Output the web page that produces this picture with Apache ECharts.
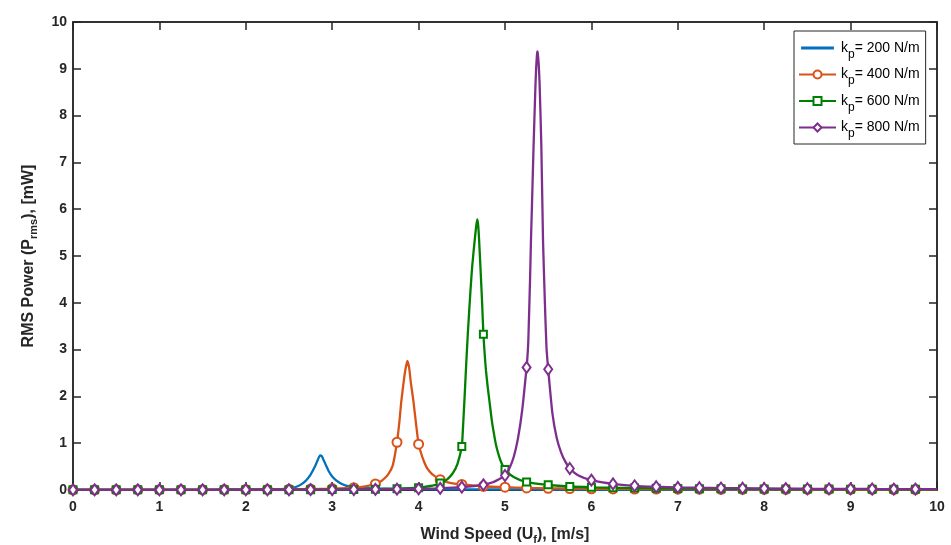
<!DOCTYPE html>
<html>
<head>
<meta charset="utf-8">
<script src="https://cdn.jsdelivr.net/npm/echarts@6/dist/echarts.min.js"></script>
<style>html,body{margin:0;padding:0;background:#fff}#c{width:951px;height:545px}</style>
</head>
<body>
<div id="c"></div>
<script>
// ---- data ----
const seriesNames = ['200', '400', '600', '800'];
const xTicks = [0,1,2,3,4,5,6,7,8,9,10];
const yTicks = [0,1,2,3,4,5,6,7,8,9,10];

const kp200 = [[0,0.01],[0.5,0.01],[1,0.01],[1.5,0.01],[2,0.012],[2.25,0.015],[2.4,0.02],[2.5,0.03],[2.55,0.05],[2.6,0.08],[2.65,0.13],[2.7,0.21],[2.75,0.33],[2.8,0.5],[2.83,0.63],[2.86,0.74],[2.88,0.72],[2.9,0.64],[2.93,0.52],[2.96,0.4],[3,0.29],[3.05,0.2],[3.1,0.14],[3.15,0.1],[3.2,0.08],[3.3,0.05],[3.4,0.04],[3.5,0.03],[3.75,0.025],[4,0.02],[4.5,0.015],[5,0.012],[6,0.01],[7,0.01],[8,0.01],[9,0.01],[10,0.01]];

const kp400 = [[0,0.005],[0.25,0.005],[0.5,0.005],[0.75,0.006],[1,0.006],[1.25,0.007],[1.5,0.008],[1.75,0.009],[2,0.01],[2.25,0.012],[2.5,0.015],[2.75,0.02],[3,0.03],[3.25,0.05],[3.4,0.085],[3.5,0.13],[3.55,0.17],[3.6,0.24],[3.65,0.34],[3.7,0.52],[3.75,1.02],[3.78,1.5],[3.8,1.9],[3.83,2.35],[3.85,2.6],[3.87,2.76],[3.89,2.62],[3.91,2.3],[3.94,1.9],[3.97,1.42],[4,0.98],[4.03,0.78],[4.06,0.62],[4.1,0.46],[4.15,0.35],[4.2,0.28],[4.25,0.22],[4.35,0.16],[4.5,0.12],[4.75,0.08],[5,0.06],[5.25,0.045],[5.5,0.036],[5.75,0.03],[6,0.026],[6.25,0.023],[6.5,0.021],[6.75,0.019],[7,0.018],[7.25,0.017],[7.5,0.016],[7.75,0.015],[8,0.014],[8.25,0.013],[8.5,0.012],[8.75,0.012],[9,0.011],[9.25,0.011],[9.5,0.01],[9.75,0.01],[10,0.01]];

const kp600 = [[0,0.003],[0.25,0.003],[0.5,0.003],[0.75,0.003],[1,0.004],[1.25,0.004],[1.5,0.004],[1.75,0.005],[2,0.005],[2.25,0.006],[2.5,0.007],[2.75,0.008],[3,0.01],[3.25,0.013],[3.5,0.018],[3.75,0.028],[4,0.05],[4.1,0.075],[4.2,0.11],[4.25,0.15],[4.3,0.19],[4.35,0.26],[4.4,0.37],[4.45,0.56],[4.5,0.93],[4.51,1.2],[4.52,1.55],[4.53,1.9],[4.55,2.65],[4.57,3.35],[4.6,4.25],[4.62,4.77],[4.65,5.35],[4.67,5.68],[4.68,5.78],[4.69,5.65],[4.7,5.35],[4.72,4.6],[4.735,4.0],[4.75,3.33],[4.765,2.9],[4.78,2.55],[4.8,2.2],[4.82,1.9],[4.85,1.45],[4.88,1.12],[4.9,0.93],[4.95,0.62],[5,0.44],[5.1,0.28],[5.25,0.17],[5.5,0.11],[5.75,0.075],[6,0.058],[6.25,0.048],[6.5,0.041],[6.75,0.036],[7,0.032],[7.25,0.029],[7.5,0.026],[7.75,0.024],[8,0.022],[8.25,0.021],[8.5,0.02],[8.75,0.019],[9,0.018],[9.25,0.017],[9.5,0.016],[9.75,0.016],[10,0.015]];

const kp800 = [[0,0.002],[0.25,0.002],[0.5,0.002],[0.75,0.003],[1,0.003],[1.25,0.003],[1.5,0.004],[1.75,0.004],[2,0.005],[2.25,0.005],[2.5,0.006],[2.75,0.007],[3,0.008],[3.25,0.01],[3.5,0.013],[3.75,0.018],[4,0.025],[4.25,0.036],[4.5,0.06],[4.75,0.11],[4.85,0.16],[4.9,0.2],[4.95,0.25],[5,0.31],[5.05,0.46],[5.1,0.7],[5.15,1.1],[5.2,1.72],[5.25,2.62],[5.26,2.85],[5.27,3.2],[5.29,4.5],[5.3,5.3],[5.31,5.95],[5.33,7.3],[5.35,8.5],[5.36,9.0],[5.37,9.3],[5.375,9.37],[5.38,9.32],[5.39,9.1],[5.4,8.7],[5.42,7.4],[5.44,5.34],[5.46,4.1],[5.48,3.05],[5.5,2.58],[5.55,1.62],[5.6,1.1],[5.65,0.8],[5.7,0.6],[5.75,0.46],[5.85,0.31],[6,0.21],[6.25,0.13],[6.5,0.09],[6.75,0.07],[7,0.056],[7.25,0.048],[7.5,0.042],[7.75,0.037],[8,0.033],[8.25,0.03],[8.5,0.027],[8.75,0.025],[9,0.023],[9.25,0.021],[9.5,0.02],[9.75,0.019],[10,0.018]];

// ---- styling ----
const colors = ['#0072BD', '#D95319', '#008000', '#7E2F8E'];
const symbols = ['none', 'emptyCircle', 'emptyRect', 'emptyDiamond'];
const symbolSizes = [0, 9, 7, [8, 11]];
const FONT = 'Liberation Sans, Arial, Helvetica, sans-serif';
const AX = '#262626';
const LINE_ICON = 'path://M0,0 M0,12 M0,5.3 L37,5.3 L37,6.7 L0,6.7 Z';

function withMarkers(arr, sym) {
  return arr.map(p => {
    const onGrid = Math.abs(p[0] * 4 - Math.round(p[0] * 4)) < 1e-9 && p[0] < 10;
    if (sym !== 'none' && onGrid) return { value: p };
    return { value: p, symbol: 'none' };
  });
}

const allData = [kp200, kp400, kp600, kp800];
const series = allData.map((d, i) => ({
  name: 'kp' + seriesNames[i],
  type: 'line',
  xAxisIndex: 0, yAxisIndex: 0,
  data: withMarkers(d, symbols[i]),
  symbol: symbols[i],
  symbolSize: symbolSizes[i],
  showSymbol: symbols[i] !== 'none',
  showAllSymbol: true,
  smooth: 0.2,
  z: 2 + i,
  color: colors[i],
  lineStyle: { width: 2.3, color: colors[i] },
  itemStyle: { borderWidth: 2, borderColor: colors[i], color: colors[i] },
  emphasis: { disabled: true },
  animation: false
}));

const axisCommon = {
  type: 'value', min: 0, max: 10, interval: 1, gridIndex: 0,
  axisLine: { show: true, onZero: false, lineStyle: { color: AX, width: 1.5 } },
  axisTick: { show: true, inside: true, length: 8, lineStyle: { color: AX, width: 1.5 } },
  splitLine: { show: false }
};

const legendData = series.map((s, i) => i === 0 ? { name: s.name, icon: LINE_ICON } : { name: s.name });

const chart = echarts.init(document.getElementById('c'));
chart.setOption({
  animation: false,
  backgroundColor: '#fff',
  grid: { left: 73, right: 14, top: 22, bottom: 55, containLabel: false, outerBoundsMode: 'none',
    show: true, borderColor: AX, borderWidth: 1.5, backgroundColor: 'transparent' },
  legend: {
    orient: 'vertical',
    left: 794, top: 31,
    padding: [10, 6, 4, 4],
    itemWidth: 37, itemHeight: 10, itemGap: 7,
    borderColor: AX, borderWidth: 1,
    backgroundColor: '#fff',
    data: legendData,
    formatter: function (n) { return '{a|k}{s|p}{a|= ' + n.replace('kp', '') + ' N/m}'; },
    textStyle: {
      fontFamily: FONT, color: '#000',
      rich: {
        a: { fontSize: 14, fontFamily: FONT, color: '#000' },
        s: { fontSize: 12, fontFamily: FONT, color: '#000', padding: [13, 0, 0, 0] }
      }
    }
  },
  xAxis: [
    Object.assign({}, axisCommon, {
      position: 'bottom',
      name: '{a|Wind Speed (U}{s|f}{a|), [m/s]}',
      nameLocation: 'middle', nameGap: 35,
      nameTextStyle: {
        rich: {
          a: { fontSize: 16, fontWeight: 'bold', fontFamily: FONT, color: AX },
          s: { fontSize: 11, fontWeight: 'bold', fontFamily: FONT, color: AX, padding: [9, 0, 0, 0] }
        }
      },
      axisLabel: { show: true, margin: 10, fontSize: 14, fontWeight: 'bold', fontFamily: FONT, color: AX,
        formatter: v => (xTicks.indexOf(v) >= 0 ? String(v) : '') }
    }),
    Object.assign({}, axisCommon, { position: 'top', axisLabel: { show: false } })
  ],
  yAxis: [
    Object.assign({}, axisCommon, {
      position: 'left',
      name: '{a|RMS Power (P}{s|rms}{a|), [mW]}',
      nameLocation: 'middle', nameGap: 34, nameRotate: 90,
      nameTextStyle: {
        rich: {
          a: { fontSize: 16, fontWeight: 'bold', fontFamily: FONT, color: AX },
          s: { fontSize: 11, fontWeight: 'bold', fontFamily: FONT, color: AX, padding: [9, 0, 0, 0] }
        }
      },
      axisLabel: { show: true, margin: 6, fontSize: 14, fontWeight: 'bold', fontFamily: FONT, color: AX,
        formatter: v => (yTicks.indexOf(v) >= 0 ? String(v) : '') }
    }),
    Object.assign({}, axisCommon, { position: 'right', axisLabel: { show: false } })
  ],
  series: series
});
</script>
</body>
</html>
